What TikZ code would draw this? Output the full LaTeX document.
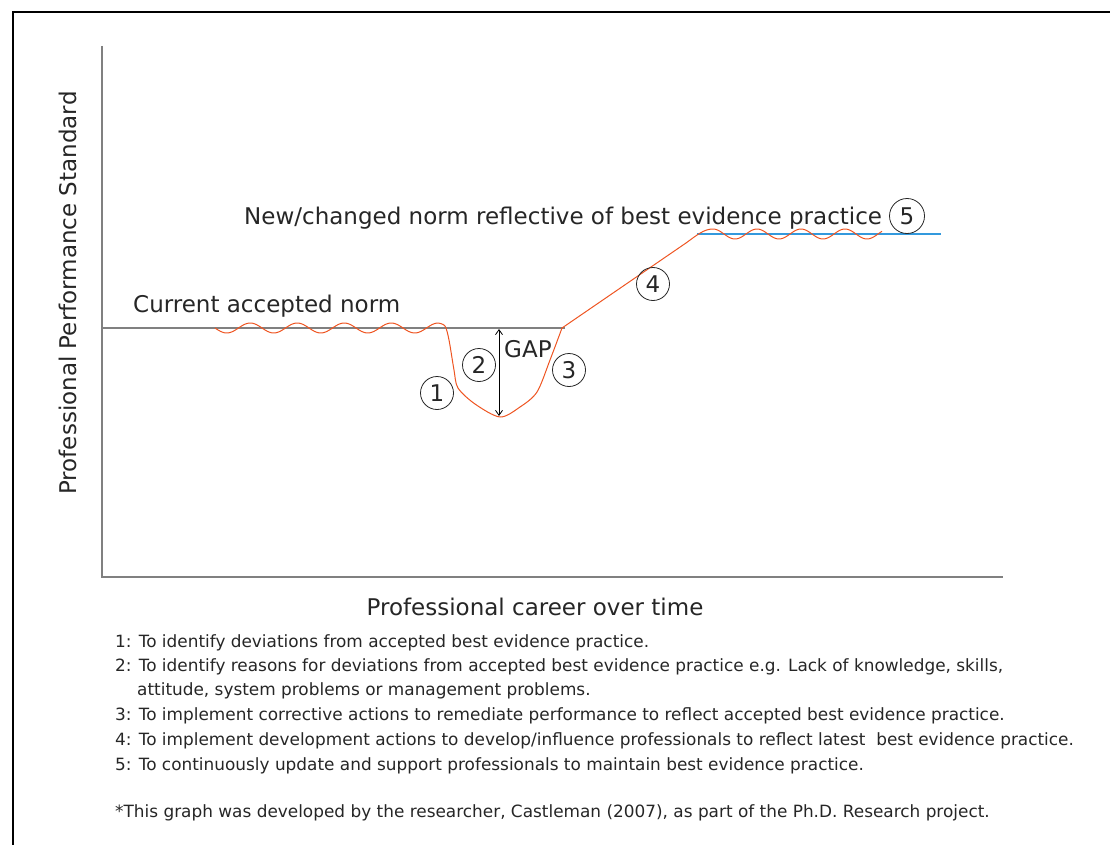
\documentclass[tikz,border=0pt]{standalone}
\usepackage{fontspec}
\setmainfont{DejaVu Sans}
\usetikzlibrary{arrows.meta}
\definecolor{curveorange}{HTML}{EE5522}
\definecolor{normblue}{HTML}{3399DD}
\definecolor{axisgray}{HTML}{808080}
\definecolor{txtgray}{HTML}{262626}

\begin{document}
\begin{tikzpicture}[x=1pt,y=-1pt,>={Straight Barb[length=5pt,width=7pt]},
  lab/.style={font=\fontsize{23}{27}\selectfont,text=txtgray,inner sep=0pt},
  axlab/.style={font=\fontsize{23}{27}\selectfont,text=txtgray,inner sep=0pt},
  note/.style={font=\fontsize{16.9}{20}\selectfont,text=txtgray,anchor=base west,inner sep=0pt},
  num/.style={draw=txtgray,circle,line width=0.8pt,minimum size=33pt,inner sep=0pt,
              font=\fontsize{23}{27}\selectfont,text=txtgray}]

\useasboundingbox (0,0) rectangle (1110,845);

% ---- frame ----
\draw[line width=2pt] (13,845) -- (13,12) -- (1110,12);

% ---- axes ----
\coordinate (origin) at (102,577);
\coordinate (ytop) at (102,46);
\coordinate (xend) at (1003,577);
\draw[axisgray,line width=1.4pt] (ytop) -- (origin) -- (xend);
\node[axlab,rotate=90] (ylab) at (68,293) {Professional Performance Standard};
\node[axlab] (xlab) at (535,607) {Professional career over time};

% ---- norms ----
\coordinate (normL) at (102,328);
\coordinate (normR) at (565,328);
\draw[axisgray,line width=1.4pt] (normL) -- (normR);
\coordinate (newL) at (697,234);
\coordinate (newR) at (941,234);
\draw[normblue,line width=1.2pt] (newL) -- (newR);
\node[lab,anchor=west] (curnorm) at (133,306) {Current accepted norm};
\node[lab,anchor=west] (newnorm) at (244,218) {New/changed norm reflective of best evidence practice};

% ---- performance curve: wobble, dip, climb, wobble ----
\draw[curveorange,line width=1pt,line join=round]
  plot[domain=215:438,samples=120] (\x,{328+5*sin(((\x-215)/47)*360)})
  -- plot[smooth,tension=0.5] coordinates {(438,323) (445,326) (449,340) (454,370)
       (458,388) (475,404) (500,417) (520,407) (537,392) (550,360) (562,328)}
  -- (686,243) .. controls (697,235) and (704,229) .. (713,229)
  -- plot[domain=713:882,samples=100] (\x,{234-5*cos(((\x-713)/44)*360)});

% ---- gap ----
\coordinate (gaptop) at (499,329);
\coordinate (gapbot) at (499,416);
\draw[<->,line width=0.8pt] (gaptop) -- (gapbot);
\node[lab,anchor=west] (gap) at (504,349) {GAP};

% ---- numbered markers ----
\node[num] (m1) at (437,393) {1};
\node[num] (m2) at (479,365) {2};
\node[num] (m3) at (569,370) {3};
\node[num] (m4) at (653,284) {4};
\node[num,minimum size=35pt] (m5) at (907,216) {5};

% ---- footnotes ----
\foreach \i/\xx/\yy/\txt in {
  1/115/647/{1: To identify deviations from accepted best evidence practice.},
  2/115/671/{2: To identify reasons for deviations from accepted best evidence practice e.g. Lack of knowledge, skills,},
  2b/137/695/{attitude, system problems or management problems.},
  3/115/720/{3: To implement corrective actions to remediate performance to reflect accepted best evidence practice.},
  4/115/745/{4: To implement development actions to develop/influence professionals to reflect latest \ best evidence practice.},
  5/115/770/{5: To continuously update and support professionals to maintain best evidence practice.},
  src/115/817/{*This graph was developed by the researcher, Castleman (2007), as part of the Ph.D. Research project.}}
  \node[note] (note\i) at (\xx,\yy) {\txt};

\end{tikzpicture}
\end{document}
